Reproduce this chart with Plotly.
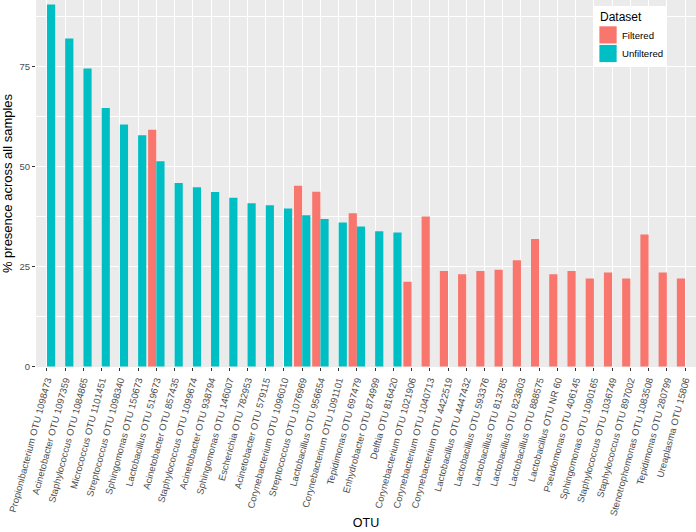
import plotly.graph_objects as go

categories = [
    "Propionibacterium OTU 1098473", "Acinetobacter OTU 1097359", "Staphylococcus OTU 1084865",
    "Micrococcus OTU 1101451", "Streptococcus OTU 1098340", "Sphingomonas OTU 150673",
    "Lactobacillus OTU 519673", "Acinetobacter OTU 857435", "Staphylococcus OTU 1099674",
    "Acinetobacter OTU 938794", "Sphingomonas OTU 146007", "Escherichia OTU 782953",
    "Acinetobacter OTU 579115", "Corynebacterium OTU 1096010", "Streptococcus OTU 1076969",
    "Lactobacillus OTU 956654", "Corynebacterium OTU 1091101", "Tepidimonas OTU 697479",
    "Enhydrobacter OTU 874999", "Delftia OTU 816420", "Corynebacterium OTU 1021906",
    "Corynebacterium OTU 1040713", "Corynebacterium OTU 4422519", "Lactobacillus OTU 4447432",
    "Lactobacillus OTU 593376", "Lactobacillus OTU 813785", "Lactobacillus OTU 823803",
    "Lactobacillus OTU 888575", "Lactobacillus OTU NR 60", "Pseudomonas OTU 406145",
    "Sphingomonas OTU 1090165", "Staphylococcus OTU 1036749", "Staphylococcus OTU 897002",
    "Stenotrophomonas OTU 1083508", "Tepidimonas OTU 280799", "Ureaplasma OTU 15806",
]

filtered = [
    None, None, None, None, None, None, 59.2, None, None, None,
    None, None, None, None, 45.2, 43.7, None, 38.3, None, None,
    21.2, 37.5, 23.9, 23.1, 23.9, 24.2, 26.6, 31.9, 23.1, 23.9,
    22.0, 23.5, 22.0, 33.0, 23.5, 22.0,
]

unfiltered = [
    90.5, 82.0, 74.5, 64.6, 60.5, 57.8, 51.3, 45.9, 44.8, 43.6,
    42.2, 40.8, 40.3, 39.5, 37.8, 36.9, 36.0, 35.0, 33.8, 33.5,
    None, None, None, None, None, None, None, None, None, None,
    None, None, None, None, None, None,
]

series_names = ["Filtered", "Unfiltered"]
series_colors = ["#F8766D", "#00BFC4"]
legend_title = "Dataset"
y_ticks = [0, 25, 50, 75]

W, H = 696, 532
ML, MR, MT, MB = 35.5, 0, 0, 165
PW, PH = W - ML - MR, H - MT - MB


def px_x(px):
    return (px - ML) / PW


def px_y(py):
    return 1 - (py - MT) / PH


fig = go.Figure()
for name, vals, col in zip(series_names, [filtered, unfiltered], series_colors):
    fig.add_trace(go.Bar(x=categories, y=vals, name=name, showlegend=False,
                         marker=dict(color=col, line=dict(width=0))))

FONT = "Liberation Sans, Arial, sans-serif"

# legend drawn ggplot-style (box, title, 17px keys, labels)
shapes = [dict(type="rect", xref="paper", yref="paper",
               x0=px_x(594), x1=px_x(666.5), y0=px_y(66.5), y1=px_y(6),
               fillcolor="white", line=dict(width=0), layer="above")]
annotations = [dict(text=legend_title, xref="paper", yref="paper",
                    x=px_x(597.5), y=px_y(17), xanchor="left", yanchor="middle",
                    showarrow=False, font=dict(size=12, color="black"))]
for i, (name, col) in enumerate(zip(series_names, series_colors)):
    top = 26.3 + i * 18.6
    shapes.append(dict(type="rect", xref="paper", yref="paper",
                       x0=px_x(599.3), x1=px_x(616.6), y0=px_y(top + 17.2), y1=px_y(top),
                       fillcolor=col, line=dict(width=0), layer="above"))
    annotations.append(dict(text=name, xref="paper", yref="paper",
                            x=px_x(619.5), y=px_y(top + 8.8), xanchor="left", yanchor="middle",
                            showarrow=False, font=dict(size=9.6, color="black")))

fig.update_layout(
    width=W, height=H,
    margin=dict(l=ML, r=MR, t=MT, b=MB),
    paper_bgcolor="white",
    plot_bgcolor="#EBEBEB",
    barmode="group",
    bargap=0.1,
    bargroupgap=0,
    font=dict(family=FONT, color="black"),
    showlegend=False,
    shapes=shapes,
    annotations=annotations,
)
fig.update_xaxes(
    type="category",
    categoryorder="array", categoryarray=categories,
    range=[-0.6, len(categories) - 0.4],
    showgrid=True, gridcolor="white", gridwidth=1.1,
    ticks="outside", ticklen=3, tickcolor="#333333", tickwidth=1,
    tickangle=-75,
    tickfont=dict(size=9.5, color="#4D4D4D"),
    zeroline=False, showline=False,
    title=dict(text="OTU", font=dict(size=12.5, color="black"), standoff=2),
    automargin=False,
)
fig.update_yaxes(
    range=[-0.1, 91.6],
    tickvals=y_ticks, ticktext=[str(v) for v in y_ticks],
    showgrid=True, gridcolor="white", gridwidth=1.1,
    minor=dict(tickvals=[12.5, 37.5, 62.5, 87.5], showgrid=True, gridcolor="white", gridwidth=0.5),
    ticks="outside", ticklen=3, tickcolor="#333333", tickwidth=1,
    tickfont=dict(size=9.5, color="#4D4D4D"),
    zeroline=False, showline=False,
    title=dict(text="% presence across all samples", font=dict(size=13, color="black"), standoff=3),
    automargin=False,
)

fig.write_html(
    "out.html",
    config={"displayModeBar": False},
    post_script="document.body.style.margin='0';document.body.style.overflow='hidden';",
)
